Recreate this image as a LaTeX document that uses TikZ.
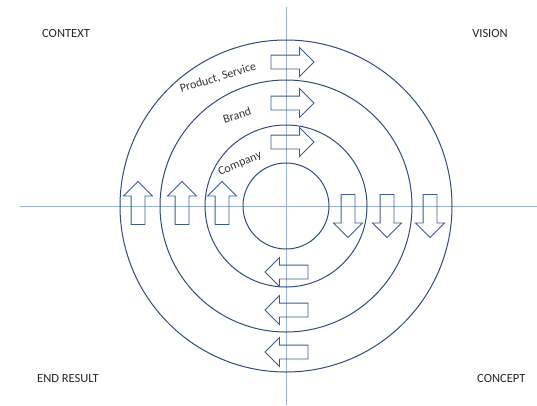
\documentclass[tikz,border=0pt]{standalone}
\usepackage{fontspec}
\setmainfont{Carlito}
\usetikzlibrary{shapes.arrows, positioning}

\definecolor{ringblue}{HTML}{2F4B7C}
\definecolor{arrowblue}{HTML}{3A5A90}
\definecolor{axisblue}{HTML}{9AB0D6}

\tikzset{
    ring/.style={circle, draw=ringblue, line width=1pt, inner sep=0pt},
    flow/.style={single arrow, draw=arrowblue, line width=0.9pt,
        inner xsep=0pt, inner ysep=6.5pt,
        minimum height=43pt, minimum width=28pt, single arrow head extend=7.5pt},
    corner/.style={font=\fontsize{12.5}{14}\selectfont, text=black!85},
    layer/.style={font=\fontsize{12}{14}\selectfont, text=black!80, inner sep=0pt}
}

\begin{document}
\begin{tikzpicture}[x=1pt, y=-1pt]
        \useasboundingbox (0,0) rectangle (537,405);

        % axes
        \coordinate (o) at (286,206);
        \coordinate (top) at (286,7);
        \coordinate (bottom) at (286,405);
        \coordinate (left) at (20,206);
        \coordinate (right) at (537,206);
        \draw[axisblue, line width=0.7pt] (top) -- (bottom);
        \draw[axisblue, line width=0.7pt] (left) -- (right);

        % rings
        \node[ring, minimum size=86pt] (company) at (o) {};
        \node[ring, minimum size=162pt] (brand) at (o) {};
        \node[ring, minimum size=252pt] (product) at (o) {};
        \node[ring, minimum size=332pt] (outer) at (o) {};

        % arrows
        \foreach \y [count=\i] in {62,103,142}
            \node[flow] (r\i) at (289,\y) {};
        \foreach \y [count=\i] in {272,310,352}
            \node[flow, rotate=180] (l\i) at (290,\y) {};
        \foreach \x [count=\i] in {138,182,222}
            \node[flow, rotate=90] (u\i) at (\x,206.5) {};
        \foreach \x [count=\i] in {348,387,430}
            \node[flow, rotate=-90] (d\i) at (\x,212.5) {};

        % layer labels
        \node[layer, rotate=17] (ps) at (218,78) {Product, Service};
        \node[layer, rotate=18] (br) at (237,115) {Brand};
        \node[layer, rotate=23] (co) at (240,164) {Company};

        % corners
        \node[corner] (context) at (66,33) {CONTEXT};
        \node[corner] (vision) at (490,33) {VISION};
        \node[corner] (endresult) at (68,378) {END RESULT};
        \node[corner, anchor=west, inner sep=0pt] (concept) at (477,378) {CONCEPT};
\end{tikzpicture}
\end{document}
